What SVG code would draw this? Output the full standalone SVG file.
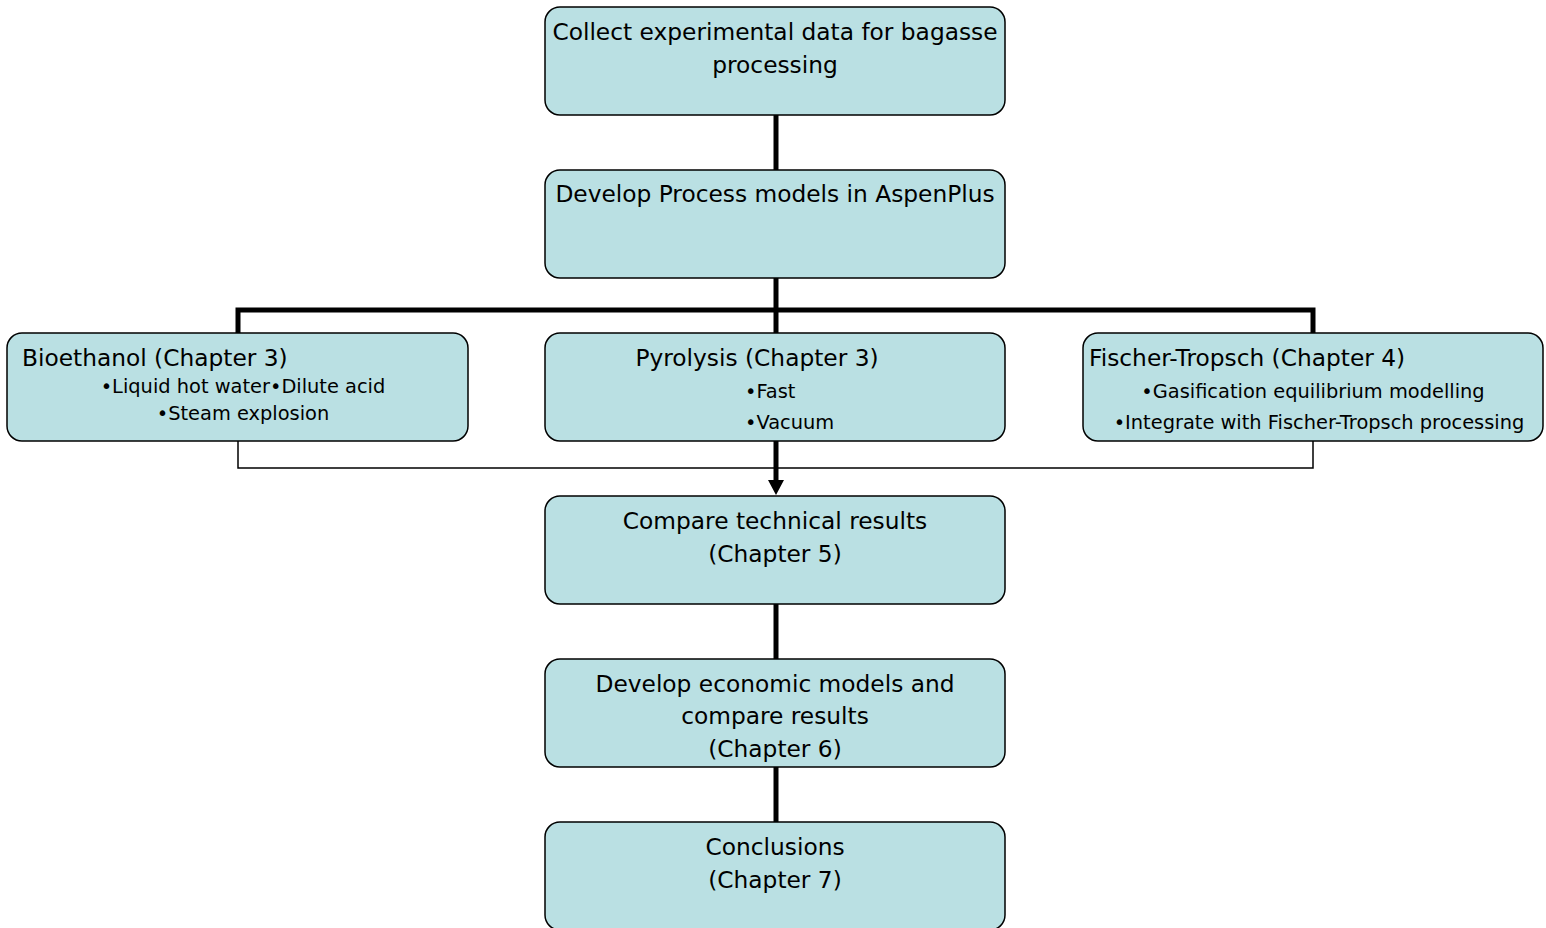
<svg xmlns="http://www.w3.org/2000/svg" width="1546" height="928" viewBox="0 0 1546 928">
<style>
.box{fill:#bae0e3;stroke:#000;stroke-width:1.5}
.t{font-family:"DejaVu Sans",Verdana,sans-serif;font-size:23.3px;fill:#000}
.s{font-family:"DejaVu Sans",Verdana,sans-serif;font-size:19.4px;fill:#000}
.c{text-anchor:middle}
.thick{stroke:#000;stroke-width:5;fill:none}
.thin{stroke:#000;stroke-width:1.5;fill:none}
</style>
<g id="connectors">
<line class="thick" x1="776" y1="115" x2="776" y2="170"/>
<polyline class="thick" points="238,333 238,310 1313,310 1313,333"/>
<line class="thick" x1="776" y1="278" x2="776" y2="333"/>
<polyline class="thin" points="238,441 238,468 1313,468 1313,441"/>
<line class="thick" x1="776" y1="441" x2="776" y2="481"/>
<path d="M768,480 L784,480 L776,495 Z" fill="#000"/>
<line class="thick" x1="776" y1="604" x2="776" y2="659"/>
<line class="thick" x1="776" y1="767" x2="776" y2="822"/>
</g>
<g id="collect">
<rect class="box" x="545" y="7" width="460" height="108" rx="15"/>
<text class="t c" x="775" y="40">Collect experimental data for bagasse</text>
<text class="t c" x="775" y="73">processing</text>
</g>
<g id="develop">
<rect class="box" x="545" y="170" width="460" height="108" rx="15"/>
<text class="t c" x="775" y="202">Develop Process models in AspenPlus</text>
</g>
<g id="bioethanol">
<rect class="box" x="7" y="333" width="461" height="108" rx="15"/>
<text class="t" x="22" y="366">Bioethanol (Chapter 3)</text>
<text class="s c" x="243" y="393">•Liquid hot water•Dilute acid</text>
<text class="s c" x="243" y="420">•Steam explosion</text>
</g>
<g id="pyrolysis">
<rect class="box" x="545" y="333" width="460" height="108" rx="15"/>
<text class="t c" x="757" y="366">Pyrolysis (Chapter 3)</text>
<text class="s" x="745" y="398">•Fast</text>
<text class="s" x="745" y="429">•Vacuum</text>
</g>
<g id="fischer">
<rect class="box" x="1083" y="333" width="460" height="108" rx="15"/>
<text class="t" x="1089" y="366">Fischer-Tropsch (Chapter 4)</text>
<text class="s c" x="1313" y="398">•Gasification equilibrium modelling</text>
<text class="s c" x="1319" y="429">•Integrate with Fischer-Tropsch processing</text>
</g>
<g id="compare">
<rect class="box" x="545" y="496" width="460" height="108" rx="15"/>
<text class="t c" x="775" y="529">Compare technical results</text>
<text class="t c" x="775" y="562">(Chapter 5)</text>
</g>
<g id="economic">
<rect class="box" x="545" y="659" width="460" height="108" rx="15"/>
<text class="t c" x="775" y="692">Develop economic models and</text>
<text class="t c" x="775" y="724">compare results</text>
<text class="t c" x="775" y="757">(Chapter 6)</text>
</g>
<g id="conclusions">
<rect class="box" x="545" y="822" width="460" height="108" rx="15"/>
<text class="t c" x="775" y="855">Conclusions</text>
<text class="t c" x="775" y="888">(Chapter 7)</text>
</g>
</svg>
